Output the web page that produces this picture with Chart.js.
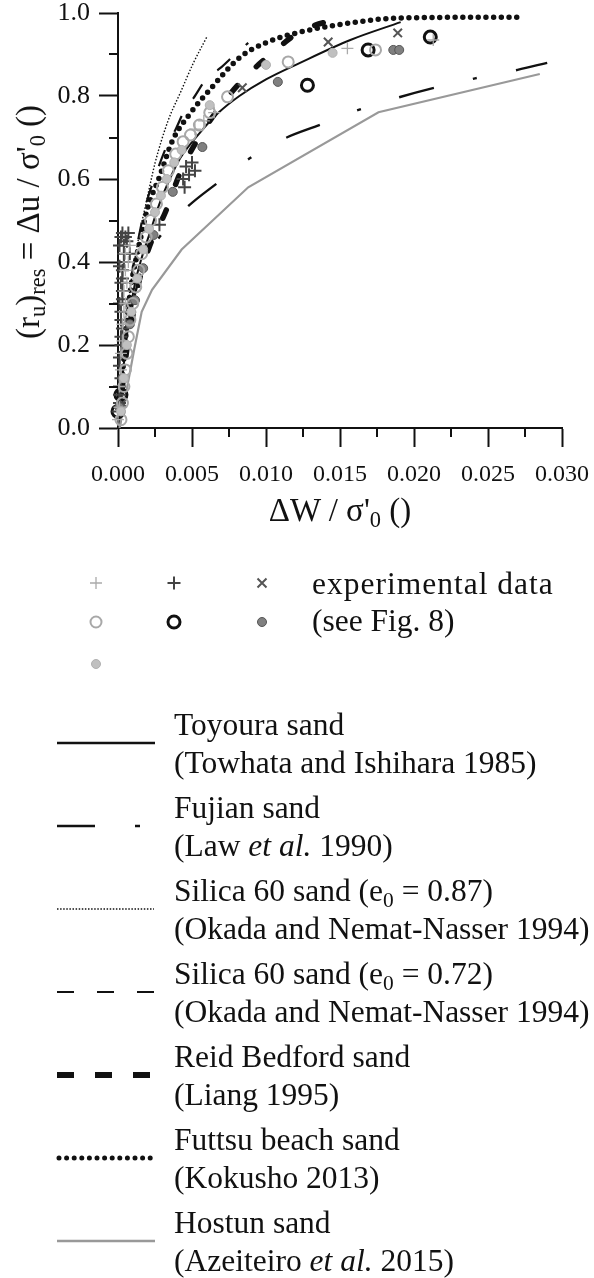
<!DOCTYPE html>
<html><head><meta charset="utf-8">
<script src="https://cdn.jsdelivr.net/npm/chart.js@4"></script>
<style>
html,body{margin:0;padding:0;background:#fff}
body{width:594px;height:1278px;overflow:hidden;position:relative;font-family:'Liberation Serif','Times New Roman',serif;color:#111}
#wrap{position:absolute;left:0;top:0;width:594px;height:500px}
.t{position:absolute;white-space:nowrap;font-size:31.5px;line-height:32px}
sub{font-size:0.68em;vertical-align:-0.28em;line-height:0}
#ytitle{position:absolute;left:28px;top:222px;transform:translate(-50%,-50%) rotate(-90deg);font-size:33px;white-space:nowrap;line-height:34px}
#xtitle{position:absolute;left:340px;top:510px;transform:translate(-50%,-50%);font-size:33px;white-space:nowrap;line-height:34px}
svg{position:absolute;left:0;top:0}
</style></head><body>
<div id="wrap"><canvas id="c" width="594" height="500"></canvas></div>
<div id="ytitle">(r<sub>u</sub>)<sub>res</sub> = &Delta;u / &sigma;'<sub>0</sub> ()</div>
<div id="xtitle">&Delta;W / &sigma;'<sub>0</sub> ()</div>

<svg width="594" height="1278" viewBox="0 0 594 1278">
  <g stroke-linecap="butt">
    <path d="M90 583h12M96 577v12" stroke="#aaa" stroke-width="1.3" fill="none"/>
    <path d="M167.5 583h13M174 576.5v13" stroke="#444" stroke-width="2" fill="none"/>
    <path d="M257.5 578.5l9 9M266.5 578.5l-9 9" stroke="#555" stroke-width="2" fill="none"/>
    <circle cx="96" cy="622" r="5.5" stroke="#a8a8a8" stroke-width="2" fill="none"/>
    <circle cx="174" cy="622" r="6" stroke="#111" stroke-width="3" fill="none"/>
    <circle cx="262" cy="622" r="4.5" stroke="#555" stroke-width="1" fill="#808080"/>
    <circle cx="96" cy="664" r="4.5" stroke="#b0b0b0" stroke-width="1" fill="#c0c0c0"/>
  </g>
  <line x1="57" y1="743" x2="155" y2="743" stroke="#111" stroke-width="2.5"/>
  <line x1="57" y1="826" x2="142" y2="826" stroke="#111" stroke-width="2.5" stroke-dasharray="38 40 5 100"/>
  <line x1="57" y1="909" x2="154" y2="909" stroke="#111" stroke-width="1.5" stroke-dasharray="1.5 1.6"/>
  <line x1="57" y1="992" x2="155" y2="992" stroke="#111" stroke-width="2.2" stroke-dasharray="17 23"/>
  <line x1="57" y1="1075" x2="155" y2="1075" stroke="#111" stroke-width="6" stroke-dasharray="17 21"/>
  <line x1="59" y1="1158" x2="154" y2="1158" stroke="#111" stroke-width="5" stroke-linecap="round" stroke-dasharray="0 7.6"/>
  <line x1="57" y1="1241" x2="155" y2="1241" stroke="#999" stroke-width="2.5"/>
</svg>

<div class="t" style="left:312px;top:568px;letter-spacing:1px">experimental data</div>
<div class="t" style="left:312px;top:605px">(see Fig. 8)</div>

<div class="t" style="left:174px;top:709px">Toyoura sand</div>
<div class="t" style="left:174px;top:747px">(Towhata and Ishihara 1985)</div>
<div class="t" style="left:174px;top:792px">Fujian sand</div>
<div class="t" style="left:174px;top:830px">(Law <i>et al.</i> 1990)</div>
<div class="t" style="left:174px;top:875px">Silica 60 sand (e<sub>0</sub> = 0.87)</div>
<div class="t" style="left:174px;top:913px">(Okada and Nemat-Nasser 1994)</div>
<div class="t" style="left:174px;top:958px">Silica 60 sand (e<sub>0</sub> = 0.72)</div>
<div class="t" style="left:174px;top:996px">(Okada and Nemat-Nasser 1994)</div>
<div class="t" style="left:174px;top:1041px">Reid Bedford sand</div>
<div class="t" style="left:174px;top:1079px">(Liang 1995)</div>
<div class="t" style="left:174px;top:1124px">Futtsu beach sand</div>
<div class="t" style="left:174px;top:1162px">(Kokusho 2013)</div>
<div class="t" style="left:174px;top:1207px">Hostun sand</div>
<div class="t" style="left:174px;top:1245px">(Azeiteiro <i>et al.</i> 2015)</div>

<script>
// ---- tick labels ----
const xTickLabels = ['0.000','0.005','0.010','0.015','0.020','0.025','0.030'];
const yTickLabels = ['0.0','0.2','0.4','0.6','0.8','1.0'];

// ---- model curves [x = ΔW/σ'0, y = (ru)res] ----
const toyoura = [[0,0],[0.0003,0.12],[0.0007,0.25],[0.0011,0.34],[0.0016,0.41],[0.0022,0.475],[0.0028,0.54],[0.0035,0.6],[0.0042,0.65],[0.0055,0.71],[0.0068,0.76],[0.0082,0.8],[0.0100,0.84],[0.0123,0.88],[0.0157,0.935],[0.0191,0.978]];
const fujian = [[0,0],[0.0005,0.2],[0.001,0.3],[0.0018,0.4],[0.0028,0.46],[0.0047,0.533],[0.0067,0.59],[0.0089,0.65],[0.0114,0.70],[0.0136,0.73],[0.0162,0.766],[0.019,0.797],[0.0214,0.82],[0.0242,0.843],[0.027,0.863],[0.029,0.88]];
const silica087 = [[0,0],[0.0004,0.18],[0.0008,0.33],[0.0012,0.42],[0.0015,0.477],[0.0019,0.542],[0.0025,0.638],[0.0034,0.742],[0.0042,0.807],[0.0051,0.88],[0.006,0.942]];
const silica072 = [[0,0],[0.0004,0.2],[0.0009,0.36],[0.0014,0.46],[0.0019,0.54],[0.0025,0.605],[0.0033,0.68],[0.0039,0.72],[0.0045,0.766],[0.0051,0.795],[0.006,0.843],[0.0069,0.867],[0.0079,0.9],[0.0088,0.928]];
const reidBedford = [[0,0],[0.0003,0.1],[0.0006,0.19],[0.0009,0.25],[0.0014,0.35],[0.0021,0.435],[0.0032,0.52],[0.0042,0.615],[0.0053,0.69],[0.0067,0.765],[0.0084,0.838],[0.0103,0.9],[0.0123,0.955],[0.0152,0.99]];
const futtsu = [[0,0],[0.0004,0.17],[0.0008,0.32],[0.0013,0.42],[0.0017,0.484],[0.0020,0.53],[0.0028,0.605],[0.0037,0.694],[0.0049,0.759],[0.0062,0.815],[0.0082,0.892],[0.0101,0.93],[0.0123,0.954],[0.0157,0.976],[0.019,0.988],[0.0274,0.99]];
const hostun = [[0.0001,0],[0.0011,0.19],[0.0016,0.28],[0.0023,0.333],[0.0043,0.43],[0.0088,0.58],[0.0176,0.761],[0.0285,0.853]];

// ---- experimental data (see Fig. 8) ----
const expLightPlus = [[0.0000,0.02],[0.0001,0.05],[0.0001,0.1],[0.0002,0.14],[0.0002,0.18],[0.0003,0.21],[0.0003,0.25],[0.0004,0.28],[0.0005,0.3],[0.0004,0.33],[0.0006,0.35],[0.0005,0.38],[0.0007,0.4],[0.0005,0.42],[0.0008,0.44],[0.0052,0.72],[0.0058,0.74],[0.0065,0.76],[0.0155,0.915],[0.0213,0.935]];
const expDarkPlus = [[0.0000,0.04],[0.0001,0.06],[0.0001,0.08],[0.0001,0.1],[0.0002,0.12],[0.0001,0.15],[0.0001,0.17],[0.0002,0.2],[0.0002,0.22],[0.0003,0.24],[0.0002,0.26],[0.0002,0.28],[0.0001,0.3],[0.0003,0.31],[0.0003,0.33],[0.0002,0.35],[0.0003,0.36],[0.0003,0.38],[0.0001,0.39],[0.0004,0.4],[0.0004,0.42],[0.0001,0.44],[0.0004,0.44],[0.0002,0.46],[0.0003,0.47],[0.0005,0.46],[0.0006,0.45],[0.0007,0.47],[0.0008,0.42],[0.0028,0.49],[0.0045,0.58],[0.0044,0.6],[0.0048,0.61],[0.0052,0.62],[0.0046,0.63],[0.0050,0.64]];
const expCross = [[0.0003,0.06],[0.0084,0.82],[0.0142,0.93],[0.0189,0.952]];
const expGrayCircle = [[0.0002,0.02],[0.0003,0.06],[0.0004,0.1],[0.0005,0.14],[0.0006,0.18],[0.0007,0.22],[0.0008,0.26],[0.0010,0.30],[0.0012,0.34],[0.0014,0.38],[0.0016,0.42],[0.0019,0.46],[0.0022,0.50],[0.0026,0.54],[0.0030,0.58],[0.0034,0.62],[0.0039,0.66],[0.0044,0.69],[0.0049,0.706],[0.0055,0.73],[0.0062,0.76],[0.0074,0.798],[0.0115,0.882],[0.0174,0.911]];
const expBlackCircle = [[0.0000,0.04],[0.0002,0.08],[0.0128,0.826],[0.0169,0.911],[0.0211,0.942]];
const expDarkDot = [[0.0001,0.05],[0.0003,0.12],[0.0005,0.2],[0.0008,0.25],[0.00115,0.308],[0.0017,0.385],[0.0024,0.465],[0.0037,0.569],[0.0057,0.677],[0.0108,0.834],[0.0186,0.911],[0.0190,0.911]];
const expLightDot = [[0.0002,0.04],[0.0004,0.12],[0.0006,0.2],[0.0009,0.28],[0.0013,0.36],[0.0017,0.43],[0.0021,0.48],[0.0025,0.52],[0.0029,0.56],[0.0033,0.6],[0.0038,0.64],[0.0043,0.67],[0.0062,0.778],[0.0100,0.875],[0.0145,0.904]];

const pts = a => a.map(p => ({x:p[0], y:p[1]}));
const mk = (label, data, o) => Object.assign({label, data:pts(data), showLine:false, clip:false, pointHoverRadius:0}, o);
const ln = (label, data, o) => Object.assign({label, data:pts(data), showLine:true, pointRadius:0, pointHoverRadius:0, fill:false, cubicInterpolationMode:'monotone', borderColor:'#111', borderWidth:2}, o);

const isMajor = (v, step) => Math.abs(v/step - Math.round(v/step)) < 1e-6;

const minorTicks = {
  id:'minorTicks',
  afterDraw(chart){
    const ctx = chart.ctx, xs = chart.scales.x, ys = chart.scales.y;
    ctx.save(); ctx.strokeStyle = '#111'; ctx.lineWidth = 2;
    xs.ticks.forEach(t => { if(!isMajor(t.value, 0.005)){ const p = Math.round(xs.getPixelForValue(t.value)); ctx.beginPath(); ctx.moveTo(p, xs.top); ctx.lineTo(p, xs.top + 9); ctx.stroke(); }});
    ys.ticks.forEach(t => { if(!isMajor(t.value, 0.2)){ const p = Math.round(ys.getPixelForValue(t.value)); ctx.beginPath(); ctx.moveTo(ys.right, p); ctx.lineTo(ys.right - 9, p); ctx.stroke(); }});
    ctx.restore();
  }
};

new Chart(document.getElementById('c'), {
  type:'scatter',
  data:{datasets:[
    mk('lightFilled', expLightDot, {pointStyle:'circle', pointRadius:4.5, backgroundColor:'#c0c0c0', borderColor:'#b0b0b0', borderWidth:1}),
    mk('grayCircle', expGrayCircle, {pointStyle:'circle', pointRadius:5.5, backgroundColor:'rgba(0,0,0,0)', borderColor:'#a8a8a8', borderWidth:2}),
    mk('lightPlus', expLightPlus, {pointStyle:'cross', pointRadius:6, borderColor:'#aaa', borderWidth:1.3}),
    mk('darkFilled', expDarkDot, {pointStyle:'circle', pointRadius:4.5, backgroundColor:'#808080', borderColor:'#555', borderWidth:1}),
    mk('darkPlus', expDarkPlus, {pointStyle:'cross', pointRadius:6.5, borderColor:'#444', borderWidth:2}),
    mk('cross', expCross, {pointStyle:'crossRot', pointRadius:6, borderColor:'#555', borderWidth:2}),
    mk('blackCircle', expBlackCircle, {pointStyle:'circle', pointRadius:6, backgroundColor:'rgba(0,0,0,0)', borderColor:'#111', borderWidth:3}),
    ln('Hostun sand', hostun, {borderColor:'#999', borderWidth:2.2, cubicInterpolationMode:'default', tension:0}),
    ln('Fujian sand', fujian, {borderWidth:2.4, borderDash:[36,40,4,40]}),
    ln('Toyoura sand', toyoura, {borderWidth:2}),
    ln('Silica 60 sand (e0 = 0.87)', silica087, {borderWidth:1.4, borderDash:[1.5,1.8]}),
    ln('Silica 60 sand (e0 = 0.72)', silica072, {borderWidth:2.2, borderDash:[17,21]}),
    ln('Reid Bedford sand', reidBedford, {borderWidth:5.5, borderDash:[9,27], borderCapStyle:'round'}),
    ln('Futtsu beach sand', futtsu, {borderWidth:5.5, borderDash:[0,7.7], borderCapStyle:'round'})
  ]},
  options:{
    responsive:false, animation:false, events:[],
    layout:{padding:{left:0, top:13, right:32, bottom:0}},
    plugins:{legend:{display:false}, tooltip:{enabled:false}},
    scales:{
      x:{type:'linear', min:0, max:0.03,
        border:{color:'#111', width:2},
        grid:{drawOnChartArea:false, tickLength:19, tickWidth:2, tickColor:c => (c.tick && isMajor(c.tick.value,0.005)) ? '#111' : 'rgba(0,0,0,0)'},
        ticks:{stepSize:0.0025, autoSkip:false, maxRotation:0, padding:13, color:'#111', font:{family:"'Liberation Serif', serif", size:24},
          callback:v => isMajor(v,0.005) ? xTickLabels[Math.round(v/0.005)] : ''},
        afterFit:s => { s.height = 72; s.paddingLeft = 0; s.paddingRight = 0; }
      },
      y:{type:'linear', min:0, max:1,
        border:{color:'#111', width:2},
        grid:{drawOnChartArea:false, tickLength:19, tickWidth:2, tickColor:c => (c.tick && isMajor(c.tick.value,0.2)) ? '#111' : 'rgba(0,0,0,0)'},
        ticks:{stepSize:0.1, autoSkip:false, padding:9, color:'#111', font:{family:"'Liberation Serif', serif", size:26},
          callback:v => isMajor(v,0.2) ? yTickLabels[Math.round(v/0.2)] : ''},
        afterFit:s => { s.width = 118; s.paddingTop = 0; s.paddingBottom = 0; }
      }
    }
  },
  plugins:[minorTicks]
});
</script>
</body></html>
